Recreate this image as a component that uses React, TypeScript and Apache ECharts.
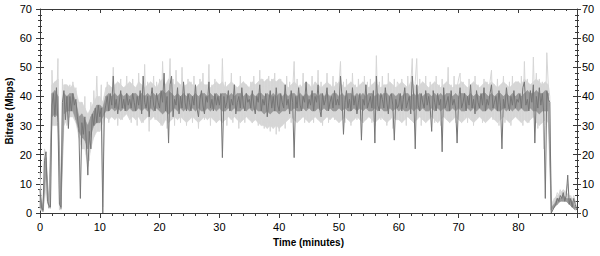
import React, { useEffect, useRef } from "react";
import * as echarts from "echarts";

// Sampling step of the traces, in minutes
const STEP_MIN = 0.25;
// Sampling step of the spread bands, in minutes
const BAND_STEP_MIN = 0.5;

// Bitrate (Mbps), darker trace, one value every 0.25 min, rows of 5 minutes
const darkTrace: number[] = [
  8, 2, 1, 18, 21, 4, 2.5, 2, 37, 41, 33, 43, 31, 3, 2, 38, 42, 32, 40, 29,
  40, 35, 41, 37, 39, 33, 29, 5, 31, 27, 33, 24, 13, 28, 22, 34, 30, 36, 31, 37,
  33, 36, 0, 34, 37, 40, 35, 41, 37, 47, 36, 39, 34, 38, 42, 36, 39, 35, 41, 37,
  39, 36, 41, 38, 35, 40, 37, 42, 34, 47, 38, 36, 40, 33, 39, 43, 37, 35, 41, 38,
  36, 42, 38, 48, 35, 40, 24, 44, 47, 33, 39, 37, 43, 34, 40, 36, 45, 38, 35, 41,
  38, 35, 40, 37, 44, 36, 33, 39, 42, 37, 34, 40, 38, 45, 36, 39, 35, 41, 37, 40,
  37, 41, 19, 40, 36, 38, 42, 35, 39, 37, 44, 34, 38, 40, 36, 43, 37, 35, 41, 38,
  39, 36, 42, 37, 34, 40, 38, 44, 35, 39, 37, 41, 33, 38, 42, 36, 40, 35, 43, 37,
  35, 41, 38, 36, 44, 37, 39, 34, 42, 38, 19, 40, 36, 43, 37, 35, 40, 38, 45, 36,
  39, 37, 42, 35, 40, 38, 44, 36, 33, 41, 37, 39, 43, 35, 38, 40, 36, 42, 37, 39,
  37, 47, 40, 27, 38, 42, 36, 39, 35, 43, 37, 40, 34, 38, 41, 25, 39, 37, 44, 36,
  38, 40, 36, 42, 24, 47, 37, 35, 41, 39, 36, 43, 38, 34, 40, 41, 37, 25, 39, 36,
  37, 41, 35, 39, 43, 36, 38, 40, 34, 47, 40, 22, 44, 37, 35, 41, 38, 36, 42, 37,
  40, 36, 28, 42, 38, 35, 41, 37, 39, 21, 43, 36, 38, 40, 35, 42, 37, 39, 36, 24,
  39, 43, 36, 38, 41, 35, 40, 37, 44, 36, 39, 34, 42, 38, 36, 41, 37, 43, 35, 39,
  37, 41, 44, 36, 38, 40, 35, 42, 37, 22, 39, 36, 43, 38, 35, 40, 37, 42, 36, 39,
  38, 41, 36, 43, 45, 37, 39, 35, 42, 38, 44, 24, 40, 36, 43, 37, 41, 34, 5, 42,
  39, 38, 0, 1, 2, 3, 5, 4, 6, 5, 7, 4, 6, 13, 3, 5, 2, 5, 3, 1,
];

// Bitrate (Mbps), lighter trace (wider spread), same sampling
const lightTrace: number[] = [
  14, 3, 1.5, 22, 20, 3, 3, 1.5, 49, 36, 45, 35, 53, 1, 4, 46, 34, 44, 30, 42,
  44, 33, 45, 38, 43, 30, 36, 26, 38, 24, 40, 20, 30, 18, 38, 28, 42, 33, 47, 30,
  30, 44, 2, 40, 33, 45, 31, 42, 35, 50, 33, 44, 30, 41, 46, 32, 43, 36, 47, 34,
  44, 31, 46, 34, 42, 30, 48, 35, 43, 31, 51, 33, 45, 28, 44, 36, 47, 32, 45, 34,
  46, 30, 52, 36, 44, 29, 40, 53, 33, 46, 30, 49, 34, 42, 31, 50, 35, 44, 30, 46,
  33, 45, 31, 47, 34, 43, 29, 46, 35, 48, 32, 43, 36, 51, 30, 44, 33, 46, 31, 43,
  44, 32, 53, 34, 45, 30, 43, 35, 48, 31, 44, 36, 42, 29, 47, 33, 45, 31, 44, 36,
  33, 45, 31, 47, 35, 42, 30, 49, 32, 46, 29, 45, 31, 47, 28, 46, 30, 48, 27, 45,
  28, 46, 31, 44, 29, 47, 33, 45, 31, 42, 52, 34, 46, 32, 44, 35, 48, 31, 43, 36,
  44, 33, 47, 31, 44, 35, 49, 32, 45, 30, 43, 36, 48, 31, 44, 34, 47, 32, 45, 35,
  44, 52, 33, 45, 31, 46, 34, 43, 30, 48, 35, 44, 32, 46, 36, 43, 31, 47, 33, 45,
  33, 46, 31, 44, 30, 54, 34, 45, 32, 47, 35, 43, 30, 48, 33, 44, 29, 46, 34, 45,
  44, 32, 46, 34, 43, 30, 47, 35, 44, 53, 31, 45, 53, 33, 46, 30, 44, 35, 47, 32,
  33, 45, 36, 43, 31, 47, 34, 44, 30, 46, 33, 42, 35, 50, 32, 44, 34, 47, 31, 43,
  46, 48, 32, 45, 34, 43, 31, 46, 35, 44, 30, 47, 33, 44, 36, 42, 31, 46, 34, 45,
  33, 45, 49, 32, 44, 35, 46, 30, 43, 36, 47, 31, 44, 34, 45, 30, 47, 33, 44, 35,
  45, 32, 47, 30, 52, 35, 46, 31, 44, 33, 53.5, 36, 48, 29, 46, 31, 45, 22, 30, 55,
  44, 40, 0, 2, 3, 5, 7, 6, 8, 6, 7, 5, 8, 10, 4, 6, 4, 6, 4, 2,
];

// Upper edge of the light spread band (Mbps), one value every 0.5 min, rows of 10 minutes
const lightBandHigh: number[] = [
  8, 3, 21, 3, 44, 45, 46, 4, 44, 44, 43, 44, 42, 38, 38, 36, 34, 36, 38, 40,
  40, 38, 43, 44, 43, 44, 45, 44, 43, 44, 45, 44, 43, 45, 44, 43, 44, 45, 44, 43,
  45, 46, 44, 46, 45, 44, 45, 44, 43, 44, 45, 44, 43, 44, 45, 44, 44, 43, 44, 45,
  44, 45, 43, 44, 45, 44, 43, 44, 45, 44, 43, 45, 44, 45, 46, 45, 46, 45, 46, 45,
  46, 45, 44, 43, 44, 45, 44, 43, 44, 45, 44, 43, 45, 44, 43, 44, 45, 44, 43, 44,
  45, 44, 43, 44, 45, 44, 43, 44, 45, 44, 43, 44, 45, 44, 43, 44, 44, 45, 44, 43,
  44, 45, 44, 43, 45, 44, 43, 44, 45, 44, 43, 44, 45, 44, 43, 44, 45, 44, 43, 44,
  44, 45, 44, 43, 44, 45, 44, 43, 44, 45, 44, 45, 44, 43, 44, 45, 44, 43, 44, 45,
  45, 44, 46, 45, 44, 45, 46, 45, 44, 45, 44, 3, 5, 6, 7, 8, 7, 6, 5, 3,
];

// Lower edge of the light spread band (Mbps), same sampling
const lightBandLow: number[] = [
  1, 0.5, 8, 1.5, 30, 30, 30, 1, 30, 32, 33, 33, 31, 26, 22, 22, 16, 22, 26, 28,
  28, 31, 33, 32, 33, 32, 33, 32, 33, 34, 32, 33, 32, 33, 31, 32, 33, 32, 33, 32,
  31, 30, 32, 31, 32, 33, 32, 33, 32, 31, 32, 33, 32, 31, 32, 33, 32, 33, 32, 31,
  32, 31, 32, 33, 32, 33, 32, 31, 32, 33, 32, 31, 32, 31, 30, 30, 29, 30, 29, 30,
  29, 30, 31, 32, 33, 32, 31, 32, 33, 32, 31, 32, 33, 32, 31, 32, 33, 32, 33, 32,
  31, 32, 33, 32, 31, 32, 33, 32, 31, 32, 33, 32, 31, 32, 33, 32, 31, 32, 33, 32,
  32, 31, 32, 33, 32, 31, 32, 33, 32, 31, 32, 33, 32, 31, 32, 33, 32, 31, 32, 33,
  32, 31, 32, 33, 32, 31, 32, 33, 32, 31, 32, 33, 32, 31, 32, 33, 32, 31, 32, 33,
  32, 31, 32, 31, 32, 33, 31, 30, 31, 32, 31, 0.5, 2, 3, 4, 5, 4, 3, 2, 1,
];

// Upper edge of the dense dark core (Mbps), one value every 0.5 min, rows of 10 minutes
const darkBandHigh: number[] = [
  6, 2, 19, 2.5, 41, 42, 40, 3, 41, 40, 41, 41, 38, 33, 34, 32, 30, 33, 35, 37,
  37, 36, 40, 41, 40, 41, 40, 41, 40, 41, 40, 41, 41, 40, 41, 40, 41, 40, 41, 40,
  41, 42, 41, 42, 41, 40, 41, 40, 41, 40, 41, 40, 41, 40, 41, 41, 40, 41, 40, 41,
  40, 41, 41, 40, 41, 40, 41, 41, 40, 41, 40, 41, 40, 41, 41, 40, 41, 40, 41, 40,
  41, 40, 41, 40, 41, 41, 40, 41, 40, 41, 40, 41, 41, 40, 41, 40, 41, 40, 41, 41,
  40, 41, 40, 41, 41, 40, 41, 40, 41, 40, 41, 41, 40, 41, 40, 41, 41, 40, 41, 40,
  41, 40, 41, 41, 40, 41, 40, 41, 40, 41, 41, 40, 41, 40, 41, 40, 41, 41, 40, 41,
  40, 41, 41, 40, 41, 40, 41, 40, 41, 41, 40, 41, 40, 41, 41, 40, 41, 40, 41, 40,
  41, 40, 41, 42, 41, 41, 42, 41, 41, 42, 41, 2, 3, 5, 5, 6, 5, 5, 4, 2,
];

// Lower edge of the dense dark core (Mbps), same sampling
const darkBandLow: number[] = [
  2, 0.5, 15, 1.8, 33, 34, 33, 1.5, 34, 35, 35, 35, 32, 28, 26, 25, 22, 27, 30, 31,
  31, 33, 35, 35, 36, 35, 36, 35, 36, 35, 36, 35, 35, 36, 35, 36, 35, 36, 35, 36,
  35, 34, 35, 34, 35, 36, 35, 36, 35, 36, 35, 36, 35, 36, 35, 35, 36, 35, 36, 35,
  36, 35, 35, 36, 35, 36, 35, 35, 36, 35, 36, 35, 36, 35, 35, 34, 35, 34, 35, 35,
  34, 35, 35, 36, 35, 36, 35, 35, 36, 35, 36, 35, 35, 36, 35, 36, 35, 36, 35, 35,
  36, 35, 36, 35, 35, 36, 35, 36, 35, 36, 35, 35, 36, 35, 36, 35, 35, 36, 35, 36,
  35, 36, 35, 35, 36, 35, 36, 35, 36, 35, 35, 36, 35, 36, 35, 36, 35, 35, 36, 35,
  36, 35, 35, 36, 35, 36, 35, 36, 35, 35, 36, 35, 36, 35, 35, 36, 35, 36, 35, 36,
  35, 36, 35, 35, 36, 35, 35, 34, 35, 35, 35, 1, 2, 3, 4, 4, 4, 3, 2, 1,
];

const xTicks = { min: 0, max: 89.8, interval: 10 };
const yTicks = { min: 0, max: 70, interval: 10 };

const FONT = "Liberation Sans, Arial, sans-serif";
const AXIS_COLOR = "#3a3a3a";
const LIGHT = "#d6d6d6";
const CORE = "#999999";
const DARK = "#767676";

export default function App() {
  const ref = useRef<HTMLDivElement>(null);

  useEffect(() => {
    if (!ref.current) return;
    const chart = echarts.init(ref.current, null, { renderer: "svg" });

    const toPairs = (arr: number[], step: number) => arr.map((v, i) => [i * step, v]);
    const toRows = (low: number[], high: number[]) =>
      high.map((h, i) => [i * BAND_STEP_MIN, low[i], h]);

    const bandSeries = (name: string, rows: number[][], color: string, z: number) => ({
      type: "custom",
      name,
      silent: true,
      z,
      data: rows,
      encode: { x: 0, y: [1, 2] },
      renderItem: (params: any, api: any) => {
        const i = params.dataIndex;
        if (i >= rows.length - 1) return null;
        const a = rows[i];
        const b = rows[i + 1];
        return {
          type: "polygon",
          shape: {
            points: [
              api.coord([a[0], a[1]]),
              api.coord([a[0], a[2]]),
              api.coord([b[0], b[2]]),
              api.coord([b[0], b[1]]),
            ],
          },
          style: { fill: color, stroke: color, lineWidth: 0.6 },
        };
      },
    });

    const lineStyle = { color: AXIS_COLOR, width: 1 };
    const baseX = {
      type: "value" as const,
      min: xTicks.min,
      max: xTicks.max,
      interval: xTicks.interval,
      splitLine: { show: false },
    };
    const baseY = {
      type: "value" as const,
      min: yTicks.min,
      max: yTicks.max,
      interval: yTicks.interval,
      splitLine: { show: false },
    };

    chart.setOption({
      animation: false,
      backgroundColor: "#ffffff",
      grid: { left: 40, right: 23, top: 9, bottom: 43, containLabel: false, outerBoundsMode: "none" },
      xAxis: [
        {
          ...baseX,
          position: "bottom",
          name: "Time (minutes)",
          nameLocation: "middle",
          nameGap: 24,
          nameMoveOverlap: false,
          nameTextStyle: { fontFamily: FONT, fontSize: 10, fontWeight: "bold", color: "#000" },
          axisLine: { show: true, onZero: false, lineStyle },
          axisTick: { show: true, inside: false, length: 5, lineStyle },
          minorTick: { show: true, splitNumber: 5, length: 3, lineStyle },
          axisLabel: { show: true, margin: 8, fontFamily: FONT, fontSize: 11, color: "#000", showMaxLabel: false },
        },
        {
          ...baseX,
          position: "top",
          axisLine: { show: true, onZero: false, lineStyle },
          axisTick: { show: true, inside: true, length: 4, lineStyle },
          minorTick: { show: true, splitNumber: 5, length: 2, lineStyle },
          axisLabel: { show: false },
        },
      ],
      yAxis: [
        {
          ...baseY,
          position: "left",
          name: "Bitrate (Mbps)",
          nameLocation: "middle",
          nameGap: 26,
          nameMoveOverlap: false,
          nameTextStyle: { fontFamily: FONT, fontSize: 10, fontWeight: "bold", color: "#000" },
          axisLine: { show: true, onZero: false, lineStyle },
          axisTick: { show: true, inside: false, length: 4, lineStyle },
          minorTick: { show: true, splitNumber: 5, length: 2, lineStyle },
          axisLabel: { show: true, margin: 8, fontFamily: FONT, fontSize: 11, color: "#000" },
        },
        {
          ...baseY,
          position: "right",
          axisLine: { show: true, onZero: false, lineStyle },
          axisTick: { show: true, inside: false, length: 4, lineStyle },
          minorTick: { show: true, splitNumber: 5, length: 2, lineStyle },
          axisLabel: { show: true, margin: 5, fontFamily: FONT, fontSize: 11, color: "#000" },
        },
        {
          ...baseY,
          position: "left",
          axisLine: { show: false, onZero: false },
          axisTick: { show: true, inside: true, length: 4, lineStyle },
          minorTick: { show: true, splitNumber: 5, length: 2, lineStyle },
          axisLabel: { show: false },
        },
        {
          ...baseY,
          position: "right",
          axisLine: { show: false, onZero: false },
          axisTick: { show: true, inside: true, length: 4, lineStyle },
          minorTick: { show: true, splitNumber: 5, length: 2, lineStyle },
          axisLabel: { show: false },
        },
      ],
      series: [
        bandSeries("lightBand", toRows(lightBandLow, lightBandHigh), LIGHT, 1),
        {
          type: "line",
          name: "light",
          data: toPairs(lightTrace, STEP_MIN),
          showSymbol: false,
          symbol: "none",
          lineStyle: { color: LIGHT, width: 1 },
          z: 2,
        },
        bandSeries("darkCore", toRows(darkBandLow, darkBandHigh), CORE, 3),
        {
          type: "line",
          name: "dark",
          data: toPairs(darkTrace, STEP_MIN),
          showSymbol: false,
          symbol: "none",
          lineStyle: { color: DARK, width: 1 },
          z: 4,
        },
      ],
    });

    return () => chart.dispose();
  }, []);

  return <div ref={ref} style={{ width: 600, height: 256, position: "absolute", left: 0, top: 0 }} />;
}
